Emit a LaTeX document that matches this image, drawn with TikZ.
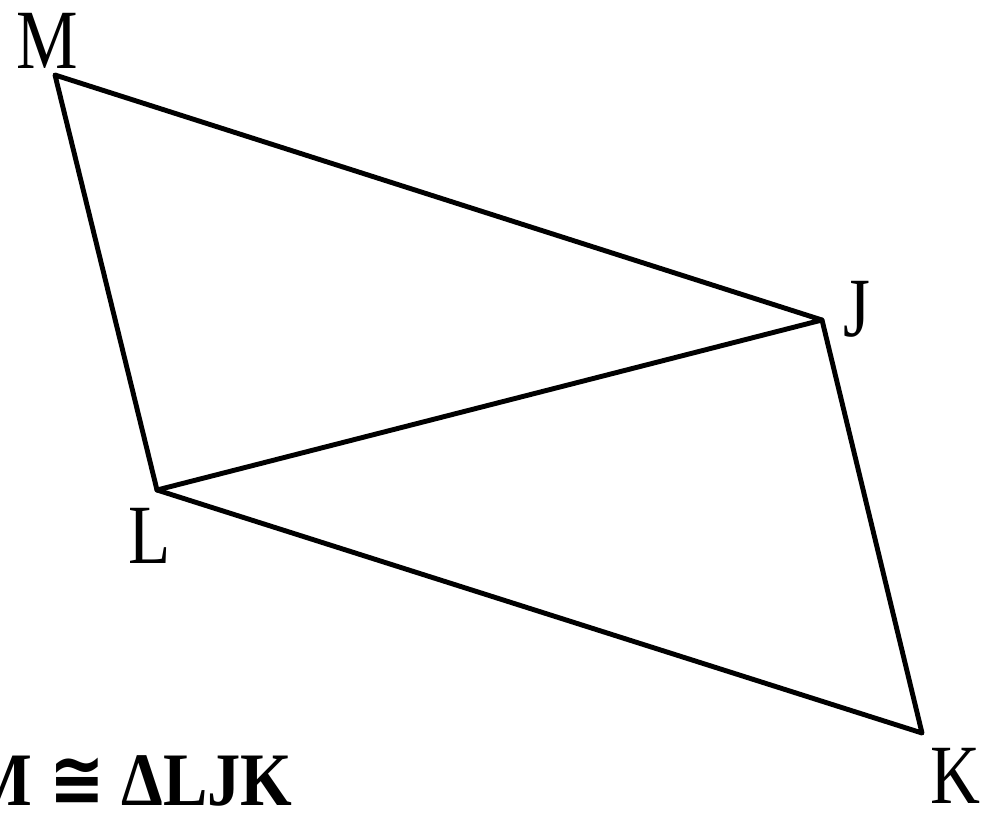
\documentclass[tikz,border=0pt]{standalone}
\usepackage{fontspec}
\setmainfont{Liberation Serif}
\newfontfamily\symfam{DejaVu Sans}
\begin{document}
\begin{tikzpicture}[x=0.02cm,y=-0.02cm,
  edge/.style={line width=2.8pt,line join=round,line cap=round},
  vlabel/.style={font=\fontsize{48}{50}\selectfont,inner sep=0pt,anchor=base},
  stmt/.style={font=\fontsize{43}{45}\selectfont\bfseries,inner sep=0pt,anchor=base east}]
\useasboundingbox (0,0) rectangle (989,815);
\coordinate (M) at (55,75);
\coordinate (J) at (822,320);
\coordinate (L) at (157,490);
\coordinate (K) at (922,733);
\draw[edge] (M) -- (J) -- (L) -- cycle;
\draw[edge] (L) -- (K) -- (J);
\node[vlabel] (lM) at (47.5,68) {\scalebox{0.82}[1]{M}};
\node[vlabel] (lJ) at (857,336) {\scalebox{0.82}[1]{J}};
\node[vlabel] (lL) at (150,563) {\scalebox{0.82}[1]{L}};
\node[vlabel] (lK) at (955,803) {\scalebox{0.82}[1]{K}};
\node[stmt] (st) at (293,805) {\scalebox{0.88}[1]{ΔLJM {\symfam\bfseries ≅} ΔLJK}};
\end{tikzpicture}
\end{document}
